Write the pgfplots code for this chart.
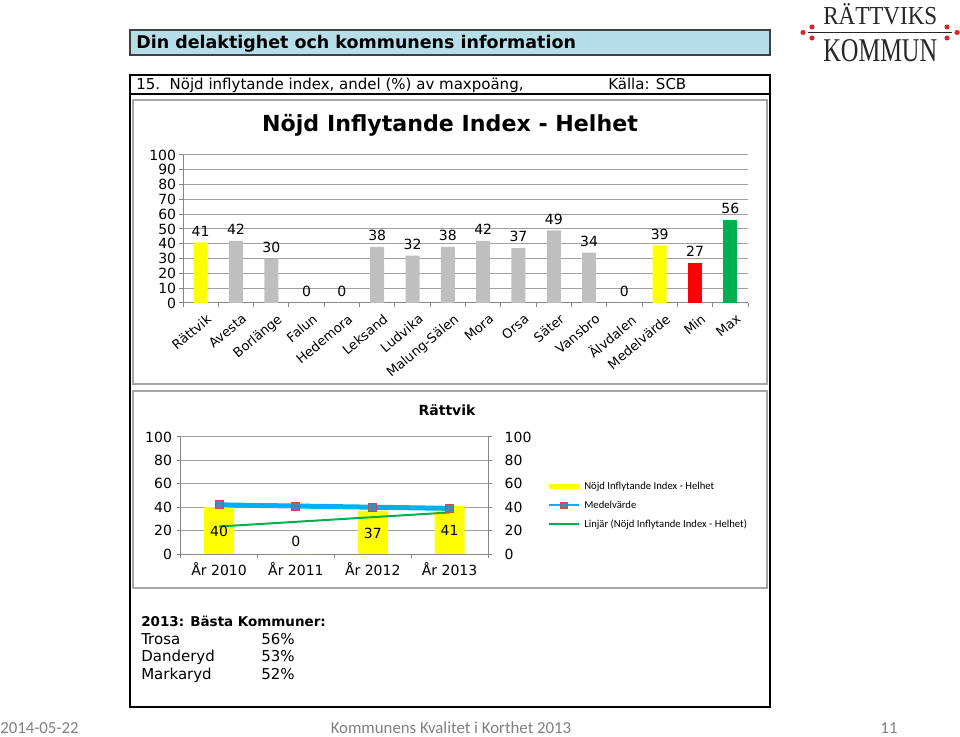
\documentclass[border=0pt]{standalone}
\usepackage{pgfplots}
\pgfplotsset{compat=1.18}
\usepackage{fontspec}
\setmainfont{DejaVu Sans}
\newfontfamily\calib{Carlito}
\newfontfamily\logofont{Liberation Serif}
\definecolor{hdrblue}{HTML}{B7DEE8}
\definecolor{barGray}{HTML}{BFBFBF}
\definecolor{barYellow}{HTML}{FFFF00}
\definecolor{barRed}{HTML}{FF0000}
\definecolor{barGreen}{HTML}{00B050}
\definecolor{lineBlue}{HTML}{00B0F0}
\definecolor{markFill}{HTML}{4F81BD}
\definecolor{markDraw}{HTML}{C0504D}
\definecolor{axisGray}{HTML}{868686}
\definecolor{gridGray}{HTML}{A0A0A0}
\definecolor{panelGray}{HTML}{A6A6A6}
\definecolor{footGray}{HTML}{7F7F7F}
\definecolor{logoRed}{HTML}{D9262B}
\pgfplotsset{/pgf/number format/assume math mode=true}
\begin{document}
\begin{tikzpicture}[x=0.75pt,y=-0.75pt]
\useasboundingbox (0,0) rectangle (960,737);
% header
\draw[fill=hdrblue, draw=black!75, line width=0.9pt] (130,30) rectangle (770,55);
\node[anchor=base west, inner sep=0, font=\fontsize{13.1}{15}\selectfont\bfseries] at (136,49) {Din delaktighet och kommunens information};
% logo
\node[anchor=base west, inner sep=0, text=black!85] at (823,25) {\resizebox{85.5pt}{15.75pt}{\logofont RÄTTVIKS}};
\node[anchor=base west, inner sep=0, text=black!85] at (823,62) {\resizebox{85.5pt}{16.5pt}{\logofont KOMMUN}};
\draw[line width=0.9pt, black!85] (808,32.5) -- (952,32.5);
\fill[logoRed] (803,32.5) circle[radius=1.9pt] (812,27) circle[radius=1.9pt] (812,38) circle[radius=1.9pt];
\fill[logoRed] (957,32.5) circle[radius=1.9pt] (947,27) circle[radius=1.9pt] (947,38) circle[radius=1.9pt];
% outer box
\draw[black, line width=1pt] (130,75) rectangle (770,707);
\draw[black, line width=1pt] (130,94) -- (770,94);
\node[anchor=base west, inner sep=0, font=\fontsize{11.25}{13}\selectfont] at (136,89.5) {15.\ \ Nöjd inflytande index, andel (\%) av maxpoäng,};
\node[anchor=base west, inner sep=0, font=\fontsize{11.25}{13}\selectfont] at (608,89.5) {Källa: SCB};
% panels
\draw[panelGray, line width=1.4pt] (133,100) rectangle (767,384);
\draw[panelGray, line width=1.4pt] (133,391) rectangle (767,588);
% titles
\node[anchor=base, inner sep=0, font=\fontsize{16.6}{18}\selectfont\bfseries] at (450,132) {Nöjd Inflytande Index - Helhet};
\node[anchor=base, inner sep=0, font=\fontsize{10.5}{12}\selectfont\bfseries] at (447,415.5) {Rättvik};

% ---------- top chart ----------
\begin{axis}[
  at={(137.25pt,-227.25pt)}, anchor=south west,
  scale only axis, width=423.75pt, height=111pt,
  xmin=-0.5, xmax=15.5, ymin=0, ymax=100,
  ytick={0,10,...,100},
  xtick={0,...,15},
  xticklabels={Rättvik,Avesta,Borlänge,Falun,Hedemora,Leksand,Ludvika,Malung-Sälen,Mora,Orsa,Säter,Vansbro,Älvdalen,Medelvärde,Min,Max},
  minor xtick={-0.5,0.5,...,15.5},
  major x tick style={draw=none},
  minor x tick style={axisGray, line width=0.75pt},
  y tick style={axisGray, line width=0.75pt},
  major tick length=3pt, minor tick length=3pt,
  tick align=outside,
  axis x line*=bottom, axis y line*=left,
  axis line style={axisGray, line width=0.75pt},
  ymajorgrids, grid style={gridGray, line width=0.75pt},
  tick label style={font=\fontsize{10.5}{12}\selectfont},
  xticklabel style={font=\fontsize{9.8}{11}\selectfont, xshift=4pt, yshift=-3pt, rotate=40, anchor=north east, inner sep=1pt},
  yticklabel style={inner sep=2pt},
  nodes near coords style={font=\fontsize{10.5}{12}\selectfont, black, anchor=south, yshift=1pt},
]
\addplot[ybar, bar width=10.5pt, bar shift=0pt, fill=barGray, draw=none, nodes near coords]
  coordinates {(1,42) (2,30) (3,0) (4,0) (5,38) (6,32) (7,38) (8,42) (9,37) (10,49) (11,34) (12,0)};
\addplot[ybar, bar width=10.5pt, bar shift=0pt, fill=barYellow, draw=none, nodes near coords]
  coordinates {(0,41) (13,39)};
\addplot[ybar, bar width=10.5pt, bar shift=0pt, fill=barRed, draw=none, nodes near coords]
  coordinates {(14,27)};
\addplot[ybar, bar width=10.5pt, bar shift=0pt, fill=barGreen, draw=none, nodes near coords]
  coordinates {(15,56)};
\end{axis}

% ---------- bottom chart ----------
\begin{axis}[
  at={(135.5pt,-415.5pt)}, anchor=south west,
  scale only axis, width=230.5pt, height=87.75pt,
  xmin=-0.5, xmax=3.5, ymin=0, ymax=100,
  ytick={0,20,...,100},
  xtick={0,1,2,3},
  xticklabels={År 2010,År 2011,År 2012,År 2013},
  minor xtick={-0.5,0.5,...,3.5},
  major x tick style={draw=none},
  minor x tick style={axisGray, line width=0.75pt},
  y tick style={axisGray, line width=0.75pt},
  major tick length=3pt, minor tick length=3pt,
  tick align=outside,
  axis x line*=bottom, axis y line*=left,
  axis line style={axisGray, line width=0.75pt},
  ymajorgrids, grid style={gridGray, line width=0.75pt},
  tick label style={font=\fontsize{10.5}{12}\selectfont},
  clip=false,
  legend image code/.code={\draw[mark repeat=2,mark phase=2,#1] plot coordinates {(0pt,0pt) (11.25pt,0pt) (22.5pt,0pt)};},
  legend style={draw=none, fill=none, at={(1.19,0.64)}, anchor=north west,
    font=\calib\fontsize{8}{9}\selectfont, row sep=3pt, inner sep=0pt},
  legend cell align=left,
]
\addplot[ybar, bar width=22.5pt, bar shift=0pt, fill=barYellow, draw=none, forget plot]
  coordinates {(0,40) (1,0) (2,37) (3,41)};
\addplot[barGreen, line width=1.5pt, forget plot] coordinates {(0,23.5) (3,35.5)};
\addplot[lineBlue, line width=3.75pt, mark=square*, mark size=3pt,
  mark options={fill=markFill, draw=markDraw, line width=0.75pt}, forget plot]
  coordinates {(0,42) (1,41) (2,40) (3,39)};
\node[font=\fontsize{10.5}{12}\selectfont] at (axis cs:0,19.5) {40};
\node[font=\fontsize{10.5}{12}\selectfont] at (axis cs:1,11) {0};
\node[font=\fontsize{10.5}{12}\selectfont] at (axis cs:2,18) {37};
\node[font=\fontsize{10.5}{12}\selectfont] at (axis cs:3,20) {41};
\addlegendimage{barYellow, line width=3.75pt}
\addlegendentry{Nöjd Inflytande Index - Helhet}
\addlegendimage{lineBlue, line width=1.5pt, mark=square*, mark size=2.5pt, mark options={fill=markFill, draw=markDraw, line width=0.6pt}}
\addlegendentry{Medelvärde}
\addlegendimage{barGreen, line width=1.5pt}
\addlegendentry{Linjär (Nöjd Inflytande Index - Helhet)}
\end{axis}
\begin{axis}[
  at={(135.5pt,-415.5pt)}, anchor=south west,
  scale only axis, width=230.5pt, height=87.75pt,
  xmin=-0.5, xmax=3.5, ymin=0, ymax=100,
  ytick={0,20,...,100},
  axis y line*=right, axis x line=none,
  y tick style={axisGray, line width=0.75pt},
  major tick length=3pt, tick align=outside,
  axis line style={axisGray, line width=0.75pt},
  tick label style={font=\fontsize{10.5}{12}\selectfont},
  yticklabel style={xshift=6pt},
]
\end{axis}

% best list
\begin{scope}[every node/.style={anchor=base west, inner sep=0, font=\fontsize{11.25}{13}\selectfont}]
\node[font=\fontsize{10.1}{12}\selectfont\bfseries] at (141,626.5) {2013: Bästa Kommuner:};
\node at (141,644) {Trosa};
\node at (261,644) {56\%};
\node at (141,661.5) {Danderyd};
\node at (261,661.5) {53\%};
\node at (141,679) {Markaryd};
\node at (261,679) {52\%};
\end{scope}

% footer
\node[anchor=base west, inner sep=0, font=\calib\fontsize{12.6}{14}\selectfont, text=footGray] at (0,733) {2014-05-22};
\node[anchor=base, inner sep=0, font=\calib\fontsize{12.6}{14}\selectfont, text=footGray] at (451,733) {Kommunens Kvalitet i Korthet 2013};
\node[anchor=base, inner sep=0, font=\calib\fontsize{12.6}{14}\selectfont, text=footGray] at (889,733) {11};
\end{tikzpicture}
\end{document}
